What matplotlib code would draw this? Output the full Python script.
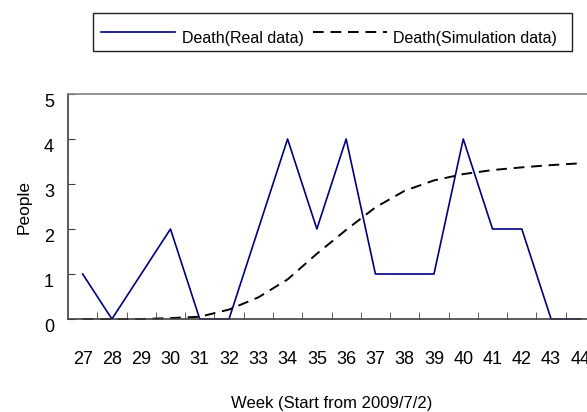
import matplotlib.pyplot as plt
from matplotlib.lines import Line2D
from matplotlib.patches import Rectangle
from matplotlib.transforms import ScaledTranslation

plt.rcParams['font.family'] = ['Liberation Sans', 'DejaVu Sans']

weeks = [27, 28, 29, 30, 31, 32, 33, 34, 35, 36, 37, 38, 39, 40, 41, 42, 43, 44]
death_real = [1, 0, 1, 2, 0, 0, 2, 4, 2, 4, 1, 1, 1, 4, 2, 2, 0, 0]
death_sim = [0.0, 0.0, 0.0, 0.02, 0.05, 0.21, 0.48, 0.88, 1.45, 1.98, 2.48, 2.85,
             3.08, 3.22, 3.31, 3.37, 3.42, 3.46]
y_ticks = [0, 1, 2, 3, 4, 5]
labels = ['Death(Real data)', 'Death(Simulation data)']

W, H = 587, 412
fig = plt.figure(figsize=(W / 100, H / 100), dpi=100)
ax = fig.add_axes([68 / W, 1 - 319 / H, 527 / W, 225 / H])

real_style = dict(color='#000080', lw=1.2)
sim_style = dict(color='black', lw=1.4, dashes=(5.5, 3.5))
ax.plot(weeks, death_real, clip_on=False, **real_style)
ax.plot(weeks, death_sim, clip_on=False, **sim_style)

ax.set_xlim(weeks[0] - 0.5, weeks[-1] + 0.5)
ax.set_ylim(0, 5)

# category labels at the centres, tick marks on the boundaries
ax.set_xticks(weeks)
ax.set_xticklabels([str(w) for w in weeks])
ax.set_xticks([w + 0.5 for w in weeks[:-1]], minor=True)
ax.tick_params(axis='x', which='major', length=0, pad=23, labelsize=13)
ax.tick_params(axis='x', which='minor', direction='in', length=5, color='#404040')

ax.set_yticks(y_ticks)
ax.tick_params(axis='y', direction='in', length=5, color='#404040', pad=10, labelsize=13)
shift = ScaledTranslation(0, -5 / 72, fig.dpi_scale_trans)
for lab in ax.get_yticklabels():
    lab.set_transform(lab.get_transform() + shift)

ax.spines['right'].set_visible(False)
ax.spines['top'].set_color('#808080')
ax.spines['left'].set_color('#404040')
ax.spines['bottom'].set_color('#404040')
for s in ax.spines.values():
    s.set_linewidth(1.2)

ax.set_xlabel('Week (Start from 2009/7/2)', fontsize=12, labelpad=20)
ax.set_ylabel('People', fontsize=12.5, labelpad=9)

# legend box drawn by hand (Excel puts the text lower than the key lines)
fig.patches.append(Rectangle((93 / W, 1 - 51 / H), (572 - 93) / W, 38 / H,
                             transform=fig.transFigure, fill=False,
                             edgecolor='#202020', lw=1.0))
key_y = 1 - 32 / H
text_y = 1 - 39 / H
for (x0, x1, tx), lab, style in zip([(101, 175, 182), (313, 387, 393)], labels,
                                     [real_style, sim_style]):
    fig.lines.append(Line2D([x0 / W, x1 / W], [key_y, key_y],
                            transform=fig.transFigure, **style))
    fig.text(tx / W, text_y, lab, fontsize=11.5, ha='left', va='center')

fig.savefig('out.png', dpi=100)
